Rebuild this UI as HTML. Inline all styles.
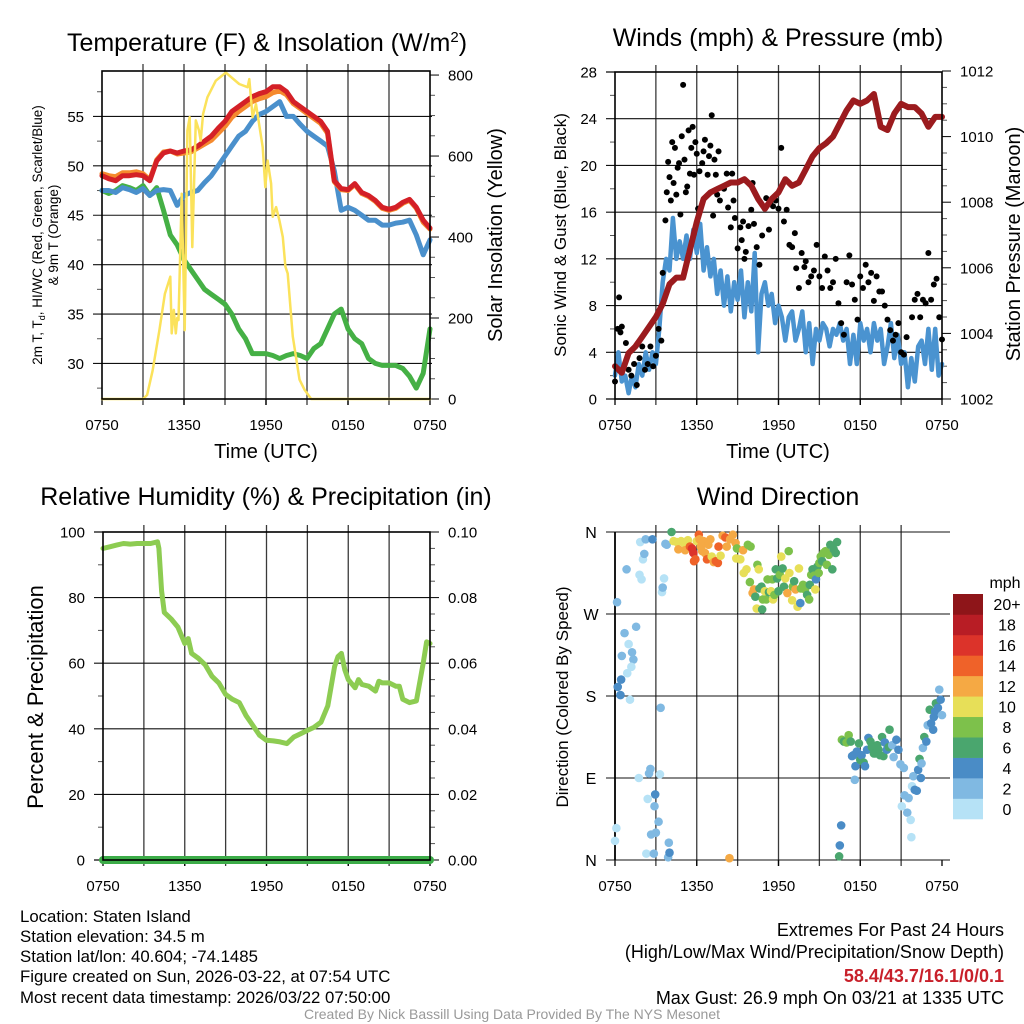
<!DOCTYPE html>
<html><head><meta charset="utf-8"><title>Staten Island Meteogram</title>
<style>
html,body{margin:0;padding:0;background:#fff;}
svg{display:block;font-family:"Liberation Sans",sans-serif;}
</style></head>
<body>
<svg id="chart" width="1024" height="1024" viewBox="0 0 1024 1024" xmlns="http://www.w3.org/2000/svg">
<rect x="0" y="0" width="1024" height="1024" fill="#fff"/>
<g id="plots"></g>
<!-- titles -->
<text x="267" y="51" font-size="25" text-anchor="middle">Temperature (F) &amp; Insolation (W/m<tspan dy="-9" font-size="15">2</tspan><tspan dy="9">)</tspan></text>
<text x="778" y="46" font-size="25" text-anchor="middle">Winds (mph) &amp; Pressure (mb)</text>
<text x="266" y="505" font-size="25" text-anchor="middle">Relative Humidity (%) &amp; Precipitation (in)</text>
<text x="778" y="505" font-size="25" text-anchor="middle">Wind Direction</text>
<!-- axis titles -->
<text x="266" y="458" font-size="20" text-anchor="middle">Time (UTC)</text>
<text x="778" y="458" font-size="20" text-anchor="middle">Time (UTC)</text>
<text transform="translate(42,235) rotate(-90)" font-size="13.5" text-anchor="middle">2m T, T<tspan font-size="9" dy="3">d</tspan><tspan dy="-3">, HI/WC (Red, Green, Scarlet/Blue)</tspan></text>
<text transform="translate(58,235) rotate(-90)" font-size="13.5" text-anchor="middle">&amp; 9m T (Orange)</text>
<text transform="translate(502,235) rotate(-90)" font-size="20" text-anchor="middle">Solar Insolation (Yellow)</text>
<text transform="translate(566,235) rotate(-90)" font-size="17" text-anchor="middle">Sonic Wind &amp; Gust (Blue, Black)</text>
<text transform="translate(1020,244) rotate(-90)" font-size="20" text-anchor="middle">Station Pressure (Maroon)</text>
<text transform="translate(43,697) rotate(-90)" font-size="22" text-anchor="middle">Percent &amp; Precipitation</text>
<text transform="translate(568,697) rotate(-90)" font-size="17" text-anchor="middle">Direction (Colored By Speed)</text>
<text x="1005" y="588" font-size="16" text-anchor="middle">mph</text>
<!-- footer info -->
<g font-size="16.8">
<text x="20" y="922">Location: Staten Island</text>
<text x="20" y="942">Station elevation: 34.5 m</text>
<text x="20" y="962">Station lat/lon: 40.604; -74.1485</text>
<text x="20" y="982">Figure created on Sun, 2026-03-22, at 07:54 UTC</text>
<text x="20" y="1003">Most recent data timestamp: 2026/03/22 07:50:00</text>
</g>
<g font-size="18" text-anchor="end">
<text x="1004" y="936">Extremes For Past 24 Hours</text>
<text x="1004" y="958">(High/Low/Max Wind/Precipitation/Snow Depth)</text>
<text x="1004" y="982" fill="#c8202a" font-weight="bold">58.4/43.7/16.1/0/0.1</text>
<text x="1004" y="1004">Max Gust: 26.9 mph On 03/21 at 1335 UTC</text>
</g>
<text x="512" y="1019" font-size="14" fill="#999" text-anchor="middle">Created By Nick Bassill Using Data Provided By The NYS Mesonet</text>
</svg>
<script>
const halfHours = Array.from({length:49},(_, i)=>i/2);
const quarterHours = Array.from({length:97},(_, i)=>i/4);
const xTickHours = [0,6,12,18,24];
const xTickLabels = ['0750','1350','1950','0150','0750'];

// Temperature panel
const tempRed = [49,48.7,48.5,49,49,49.1,49,48.5,50.5,51.3,51.5,51.3,51.5,51.6,52,52.5,53,53.8,54.5,55.5,56,56.5,57,57.3,57.5,58,58,57.5,56.5,56,55.5,55,54.5,53.5,48.5,47.7,47.6,48.2,47.3,47,46.5,45.8,45.6,45.8,46.3,46.6,45.8,44.5,43.7];
const temp9mOrange = [49.2,49,48.9,49.3,49.3,49.4,49.2,48.6,50.6,51.4,51.5,51.2,51.3,51.4,51.8,52.2,52.6,53.3,54,54.9,55.5,56,56.5,56.8,57,57.4,57.6,57.2,56.3,55.8,55.3,54.8,54.3,53.3,48.4,47.6,47.5,48.1,47.2,46.9,46.4,45.7,45.5,45.7,46.2,46.5,45.7,44.3,43.6];
const hiwcBlue = [47.5,47.5,47.3,47.8,47.6,47.3,47.7,47,47.5,47.6,47.5,46,47,47.3,47.5,48.3,49,50,51,52,53,53.5,54.5,55.2,55.5,56,56.5,55,55,54.2,53.5,53,52.5,52,49.5,45.5,45.8,45.5,45,44.5,44.5,44,44,44.2,44.3,44.5,43,41,42.5];
const dewGreen = [47.5,47.2,47.5,48,47.8,47.5,48,47,47.8,45.5,43,42,40.5,39.5,38.5,37.5,37,36.5,36,35,33.5,32.5,31,31,31,30.8,30.5,30.8,31,30.8,30.5,31.5,32,33.5,35,35.5,33.5,32.5,32,30.5,30,29.8,29.8,29.8,29.5,28.7,27.5,29,33.5];
const solarHours = [0,3,3.3,3.7,4.2,4.6,5.0,5.1,5.25,5.4,5.5,5.6,5.76,5.83,6.05,6.25,6.42,6.61,6.86,7.1,7.22,7.4,7.71,8.33,9.06,10.04,10.65,10.78,11.02,11.27,11.76,11.95,12.12,12.37,12.49,12.74,12.98,13.23,13.42,13.59,13.96,14.45,14.82,15.31,24];
const solarValues = [0,0,10,70,170,260,302,162,220,162,200,195,408,507,170,663,696,375,688,663,638,704,745,786,806,778,770,790,696,728,622,523,589,532,450,474,441,400,327,310,154,48,23,0,0];
const tempTickValues = [30,35,40,45,50,55];
const solarTickValues = [0,200,400,600,800];

// Wind panel
const windSpeed = [2,4,1.5,2, 0.5,2,1,3, 2,4,2.5,4, 3,6,10,12, 11,15.5,12,13.5, 12,14,12,14.5, 12.5,15,11,13, 10.5,12,9,11, 8,10.5,7.5,10, 8.5,11,7,10, 7.5,12.5,4,9, 10,8,9,6.5, 8,7,5,7, 7.5,5,6,7.5, 4,6.5,3,6, 5,6.5,6,4.5, 6,5.5,6.5,5, 6,3,5.5,3, 6.5,5,6,4, 6.5,5,6,3, 4.5,6.5,3.5,5.5, 3,4,1,3.5, 1.5,4.5,5,3, 6,2.5,6,2, 3];
const gustHours = [0,0.2,0.3,0.4,0.5,0.8,1,1.2,1.4,1.6,1.8,2,2.2,2.4,2.6,2.8,3,3.2,3.4,3.5,3.7,3.8,3.9,4,4.1,4.2,4.3,4.4,4.5,4.6,4.7,4.8,4.9,5,5.1,5.2,5.3,5.4,5.5,5.6,5.7,5.8,5.9,6,6.1,6.2,6.4,6.5,6.6,6.8,6.9,7,7.1,7.2,7.3,7.4,7.5,7.6,7.7,8,8.2,8.3,8.5,8.6,8.7,8.8,9,9.2,9.3,9.4,9.5,9.6,9.8,10,10.1,10.2,10.4,10.6,10.8,11,11.1,11.3,11.4,11.6,11.8,12,12.2,12.4,12.6,12.8,13,13.2,13.3,13.5,13.7,13.9,14,14.2,14.4,14.6,14.8,15,15.2,15.4,15.6,15.8,16,16.2,16.4,16.6,16.8,17,17.2,17.4,17.6,17.8,18,18.2,18.4,18.6,18.8,19,19.2,19.4,19.6,19.8,20,20.2,20.4,20.6,20.8,21,21.2,21.4,21.8,22,22.2,22.4,22.6,22.8,23,23.2,23.4,23.6,23.8,24];
const gustValues = [1.5,6,8.7,5.7,6.2,4.8,2.5,2,3,1.2,3.5,4.5,2.5,3,4.5,2.8,3.7,6,5,10.8,15.3,17.7,20.3,19,17,22,18.5,21.5,17.5,19.8,20.2,15.8,22.5,26.9,20.5,17.7,18.2,23,19.3,21.5,23.3,19.2,22,21,16.3,19.5,20.2,21.2,22.2,19.2,20.8,21.7,24.3,15.7,20.5,19.2,17.5,21.2,17,18,19.3,16.4,14.7,19.3,17,15.5,12.9,14.7,13.6,15.2,12,12.6,14.8,16.2,18.5,15,13,11.5,14,16.3,17.2,14.5,16.8,16.5,17,16.3,21.5,15.2,16.2,13.2,13,14.2,11.2,9.5,12.5,11.3,11.8,10,10.5,11,13.2,10.5,9.5,12.2,11,9.5,10,12,8.2,6.5,5.5,10,12.3,9.8,8.5,6.8,10.5,9.5,11.5,10,10.8,8.4,10.5,9.2,9.2,8,6.8,5.9,5,5.5,6.5,4,3.8,5.3,7,8.5,9,7,8.5,8.2,12.5,8.5,9.8,10.3,7,5.1];
const pressureValues = [1003,1002.8,1003.4,1003.6,1003.9,1004.2,1004.5,1004.9,1005.5,1005.7,1005.7,1006.55,1007.4,1008.1,1008.3,1008.4,1008.5,1008.6,1008.6,1008.7,1008.5,1008.1,1007.8,1008.1,1008.3,1008.7,1008.5,1008.6,1009.0,1009.4,1009.65,1009.8,1010.0,1010.4,1010.8,1011.1,1011.0,1011.1,1011.3,1010.3,1010.2,1010.7,1011.0,1010.9,1010.9,1010.7,1010.3,1010.6,1010.6];
const windTickValues = [0,4,8,12,16,20,24,28];
const pressureTickValues = [1002,1004,1006,1008,1010,1012];

// RH panel
const rhHours = [0,0.5,1,1.5,2,2.5,3,3.5,4,4.1,4.3,4.5,5,5.5,6,6.25,6.5,7,7.5,8,8.5,9,9.5,10,10.5,11,11.5,12,12.5,13,13.5,14,14.5,15,15.5,16,16.5,16.75,17,17.25,17.5,17.75,18,18.5,18.75,19,19.5,20,20.25,20.5,21,21.5,21.75,22,22.5,23,23.5,23.75,24];
const rhValues = [95,95.5,96,96.5,96.3,96.5,96.5,96.5,97,95,82,75.5,73.5,71,66,67.5,63,61.5,59.5,56,54,50.5,49,48,44,41,38,36.5,36.3,36,35.5,37.5,38.5,39.5,40.5,42,47,53,59,62,63,58,55,52.5,55,53.5,53,51.5,54.5,54,54,53,53,49,48,48.5,60,66.5,66];
const precipHours = [0,24];
const precipValues = [0,0];
const rhTickValues = [0,20,40,60,80,100];
const precipTickLabels = ['0.00','0.02','0.04','0.06','0.08','0.10'];

// Wind direction panel
const dirHours = [0.15,0.1,0,0.2,0.45,0.4,0.5,0.7,0.85,0.9,1,1.1,1.25,1.35,1.2,1.55,1.75,1.8,1.95,1.85,2.05,2.15,2.25,2.3,2.4,2.5,2.6,2.65,2.75,2.85,2.9,2.95,3.0,3.2,3.3,3.35,3.45,3.5,3.6,3.7,3.8,3.9,3.95,4.0,4.15,4.3,4.55,4.65,4.85,5.05,5.15,5.35,5.5,5.65,5.75,5.8,5.9,6.0,6.15,6.2,6.3,6.4,6.5,6.6,6.75,6.85,7.0,7.1,7.25,7.4,7.55,7.6,7.75,7.9,8.1,8.2,8.4,8.45,8.65,8.85,8.95,8.9,9.2,9.4,9.45,9.65,9.75,9.95,9.9,10.1,10.2,10.3,10.4,10.45,10.55,10.6,10.75,10.8,10.85,11.0,11.1,11.2,11.3,11.45,11.55,11.6,11.7,11.8,11.9,12.0,12.1,12.2,12.3,12.4,12.5,12.65,12.75,12.8,13.0,13.05,13.15,13.25,13.4,13.5,13.6,13.65,13.8,13.95,14.1,14.25,14.3,14.4,14.5,14.6,14.7,14.75,14.85,14.95,15.0,15.1,15.2,15.3,15.45,15.55,15.7,15.8,15.95,16.05,16.2,16.3,16.45,16.5,16.6,16.65,16.8,17.0,17.15,17.3,17.4,17.5,17.65,17.6,17.75,17.9,18.0,18.1,18.25,18.35,18.5,18.6,18.75,18.85,19.0,19.1,19.25,19.35,19.45,19.6,19.7,19.8,19.95,20.1,20.15,20.35,20.45,20.65,20.8,20.95,21.05,21.2,21.25,21.45,21.55,21.7,21.75,21.8,21.9,22.0,22.15,22.25,22.35,22.45,22.5,22.6,22.7,22.85,22.95,23.1,23.2,23.35,23.4,23.5,23.55,23.7,23.8,23.9,24];
const dirDegrees = [283,35,21,190,198,181,224,249,319,205,237,176,228,220,212,256,90,313,308,349,330,336,352,7,67,95,100,28,352,7,59,72,30,42,94,167,294,299,309,347,346,3,19,8,360,350,349,341,350,348,340,351,344,342,337,328,330,350,357,352,344,339,350,337,330,346,352,333,327,328,326,344,334,356,354,344,2,352,357,348,342,331,330,340,315,319,346,344,305,293,297,289,276,324,319,298,300,275,286,295,286,308,294,295,308,286,291,319,309,295,313,333,320,300,309,293,339,315,285,300,306,297,278,320,282,298,302,297,291,286,302,313,319,312,297,308,322,315,326,333,328,337,339,324,335,346,319,341,337,349,4,16,38,132,130,129,137,130,114,115,103,88,119,128,110,115,107,103,121,134,130,124,117,117,126,121,115,135,114,129,121,124,143,126,113,132,121,105,59,101,71,52,68,44,25,81,92,77,76,99,111,90,106,123,135,130,148,165,150,143,157,163,172,167,187,176,159];
const dirSpeeds = [3,1,1,4,5,4,3,3,3,1,1,1,2,2,1,3,1,1,1,1,1,3,3,1,1,3,3,3,5,3,3,5,3,3,1,3,1,3,1,3,2,3,3,5,7,10,10,12,10,11,13,11,14,17,17,15,14,10,15,12,12,13,12,12,15,12,13,11,13,15,15,14,10,12,15,13,12,12,12,12,8,10,10,12,10,10,8,8,8,12,12,7,10,8,10,7,6,7,9,10,8,8,7,10,8,10,8,7,6,7,8,10,7,7,10,12,8,10,10,9,7,13,10,10,4,8,9,9,7,8,7,8,6,8,10,5,7,8,8,8,7,8,8,8,9,7,7,6,7,7,6,5,5,8,7,8,9,7,5,4,5,3,4,6,6,5,6,5,4,5,6,6,6,6,6,6,6,6,6,5,5,6,6,3,3,4,4,3,1,3,3,3,3,1,1,1,3,5,5,5,7,5,3,3,7,5,3,7,5,5,5,5,7,5,3,5,3];
const dirTickLabels = ['N','E','S','W','N'];
const dirTickDegrees = [0,90,180,270,360];
const speedBins = ['0','2','4','6','8','10','12','14','16','18','20+'];
const speedColors = ['#b6e2f6','#80b9e2','#4a8cc6','#4aa66e','#7dc14b','#e7df58','#f5a944','#ef6229','#dc332a','#b81d25','#8e1519'];

const NS='http://www.w3.org/2000/svg';
const root=document.getElementById('plots');
function mk(tag,attrs,parent){const e=document.createElementNS(NS,tag);for(const k in attrs)e.setAttribute(k,attrs[k]);(parent||root).appendChild(e);return e;}
function lin(d0,d1,r0,r1){return v=>r0+(v-d0)/(d1-d0)*(r1-r0);}
function pathD(xs,ys,sx,sy){return xs.map((x,i)=>(i?'L':'M')+sx(x).toFixed(1)+','+sy(ys[i]).toFixed(1)).join('');}

const P1={L:102,R:430,T:71,B:399}, P2={L:615,R:942,T:72,B:399}, P3={L:103,R:430,T:532,B:860}, P4={L:615,R:942,T:532,B:860};

function timeGrid(P,prefix){
  const sx=lin(0,24,P.L,P.R);
  for(let h=3;h<24;h+=3){
    const g=mk('line',{x1:sx(h),x2:sx(h),y1:P.T-7,y2:P.B+6,stroke:'#3a3a3a','stroke-width':1.3});
    
    
  }
  xTickHours.forEach((h,i)=>{
    const t=mk('line',{x1:sx(h),x2:sx(h),y1:P.B,y2:P.B+6,stroke:'#000','stroke-width':1.3});
    
    
    const l=mk('text',{x:sx(h),y:P.B+31,'font-size':15,'text-anchor':'middle'});
    l.textContent=xTickLabels[i];
    
    
  });
  return sx;
}
function hGrid(P,ys,prefix,extR){
  ys.forEach(y=>{
    const g=mk('line',{x1:P.L-9,x2:P.R+(extR||0),y1:y,y2:y,stroke:'#111','stroke-width':1.1});
    
    
  });
}
function leftLabels(P,vals,sy,prefix,fmt){
  vals.forEach(v=>{
    const l=mk('text',{x:P.L-18,y:sy(v)+5.5,'font-size':15,'text-anchor':'end'});
    l.textContent=fmt?fmt(v):v;
    
    
  });
}
function minorTicks(x,from,to,step,sy,len,prefix){
  for(let v=from;v<=to+1e-9;v+=step){
    const t=mk('line',{x1:x,x2:x+len,y1:sy(v),y2:sy(v),stroke:'#555','stroke-width':1});
    
    
  }
}
function frame(P,prefix,sides){
  const f=mk('rect',{x:P.L,y:P.T,width:P.R-P.L,height:P.B-P.T,fill:'none',stroke:'#000','stroke-width':sides||1.6});
  
  
}
function line(xs,ys,sx,sy,color,w,name){
  const p=mk('path',{d:pathD(xs,ys,sx,sy),fill:'none',stroke:color,'stroke-width':w,'stroke-linejoin':'round','stroke-linecap':'round'});
  
  
  return p;
}

// ---------- Panel 1 ----------
{
  const sx=timeGrid(P1,'temp');
  const sy=lin(26.4,59.6,P1.B,P1.T);
  const sSolar=lin(0,810,P1.B,P1.T);
  hGrid(P1,tempTickValues.map(sy),'temp',2);
  minorTicks(P1.L-5,27.5,57.5,5,sy,5,'temp-left');
  for(let v=0;v<=800;v+=50){
    const big=v%200===0;
    const t=mk('line',{x1:P1.R,x2:P1.R+(big?9:5),y1:sSolar(v),y2:sSolar(v),stroke:big?'#000':'#555','stroke-width':1});
    
    
  }
  leftLabels(P1,tempTickValues,sy,'temp');
  solarTickValues.forEach(v=>{
    const l=mk('text',{x:P1.R+18,y:sSolar(v)+5.5,'font-size':15});
    l.textContent=v;
    
    
  });
  line(halfHours,dewGreen,sx,sy,'#45b045',5,'dewpoint-line');
  line(halfHours,hiwcBlue,sx,sy,'#4a90cc',5,'heat-index-windchill-line');
  line(halfHours,temp9mOrange,sx,sy,'#f58a2e',5,'temp-9m-line');
  line(halfHours,tempRed,sx,sy,'#d42027',5,'temp-2m-line');
  line(solarHours,solarValues,sx,sSolar,'#fbe25b',2.5,'solar-insolation-line');
  frame(P1,'temp');
}
// ---------- Panel 2 ----------
{
  const sx=timeGrid(P2,'wind');
  const sy=lin(0,28,P2.B,P2.T);
  const sp=lin(1002,1012,P2.B,P2.T-1);
  hGrid(P2,windTickValues.filter(v=>v>0&&v<28).map(sy),'wind',0);
  [0,28].forEach(v=>{const t=mk('line',{x1:P2.L-9,x2:P2.L,y1:sy(v),y2:sy(v),stroke:'#000','stroke-width':1.2});
    
    });
  minorTicks(P2.L-5,2,26,4,sy,5,'wind-left');
  for(let v=1002;v<=1012.01;v+=0.5){
    const big=Math.abs(v%2)<0.01;
    const t=mk('line',{x1:P2.R,x2:P2.R+(big?9:5),y1:sp(v),y2:sp(v),stroke:big?'#000':'#555','stroke-width':1});
    
    
  }
  leftLabels(P2,windTickValues,sy,'wind');
  pressureTickValues.forEach(v=>{
    const l=mk('text',{x:P2.R+18,y:sp(v)+5.5,'font-size':15});
    l.textContent=v;
    
    
  });
  line(quarterHours,windSpeed,sx,sy,'#4a93d0',4.5,'sonic-wind-line');
  gustHours.forEach((h,i)=>{
    const c=mk('circle',{cx:sx(h),cy:sy(gustValues[i]),r:3,fill:'#000'});
    
    
  });
  line(halfHours,pressureValues,sx,sp,'#9b1b1e',6,'pressure-line');
  frame(P2,'wind');
}
// ---------- Panel 3 ----------
{
  const sx=timeGrid(P3,'rh');
  const sy=lin(0,100,P3.B,P3.T);
  const spr=lin(0,0.1,P3.B,P3.T);
  hGrid(P3,rhTickValues.filter(v=>v>0&&v<100).map(sy),'rh',0);
  [0,100].forEach(v=>{const t=mk('line',{x1:P3.L-9,x2:P3.L,y1:sy(v),y2:sy(v),stroke:'#000','stroke-width':1.2});
    
    });
  minorTicks(P3.L-5,10,90,20,sy,5,'rh-left');
  for(let k=0;k<=20;k++){
    const big=k%4===0;
    const t=mk('line',{x1:P3.R,x2:P3.R+(big?9:5),y1:spr(k*0.005),y2:spr(k*0.005),stroke:big?'#000':'#555','stroke-width':1});
    
    
  }
  leftLabels(P3,rhTickValues,sy,'rh');
  precipTickLabels.forEach((s,i)=>{
    const l=mk('text',{x:P3.R+18,y:spr(parseFloat(s))+5.5,'font-size':15});
    l.textContent=s;
    
    
  });
  line(rhHours,rhValues,sx,sy,'#8dcc52',5,'relative-humidity-line');
  line(precipHours,precipValues,sx,spr,'#3cac48',8,'precipitation-line');
  frame(P3,'rh');
}
// ---------- Panel 4 ----------
{
  const sx=timeGrid(P4,'dir');
  const sy=lin(0,360,P4.B,P4.T);
  dirTickDegrees.forEach((d,i)=>{
    const g=mk('line',{x1:P4.L-9,x2:P4.R+8,y1:sy(d),y2:sy(d),stroke:'#111','stroke-width':1.1});
    
    
    const l=mk('text',{x:591,y:sy(d)+6,'font-size':16,'text-anchor':'middle'});
    l.textContent=dirTickLabels[i];
    
    
  });
  const ax=mk('line',{x1:P4.L,x2:P4.L,y1:P4.T,y2:P4.B,stroke:'#000','stroke-width':1.8});
  
  
  dirHours.forEach((h,i)=>{
    const bin=Math.min(10,Math.floor(dirSpeeds[i]/2));
    const c=mk('circle',{cx:sx(h),cy:sy(dirDegrees[i]),r:4.3,fill:speedColors[bin]});
    
    
  });
  // colorbar
  const cbT=594,cbB=819,cbX=953,cbW=30,seg=(cbB-cbT)/speedBins.length;
  speedBins.forEach((lab,i)=>{
    const y=cbB-(i+1)*seg;
    const r=mk('rect',{x:cbX,y:y,width:cbW,height:seg+0.3,fill:speedColors[i]});
    
    
    const l=mk('text',{x:1007,y:y+seg/2+6,'font-size':16,'text-anchor':'middle'});
    l.textContent=lab;
    
    
  });
}
</script>
</body></html>
